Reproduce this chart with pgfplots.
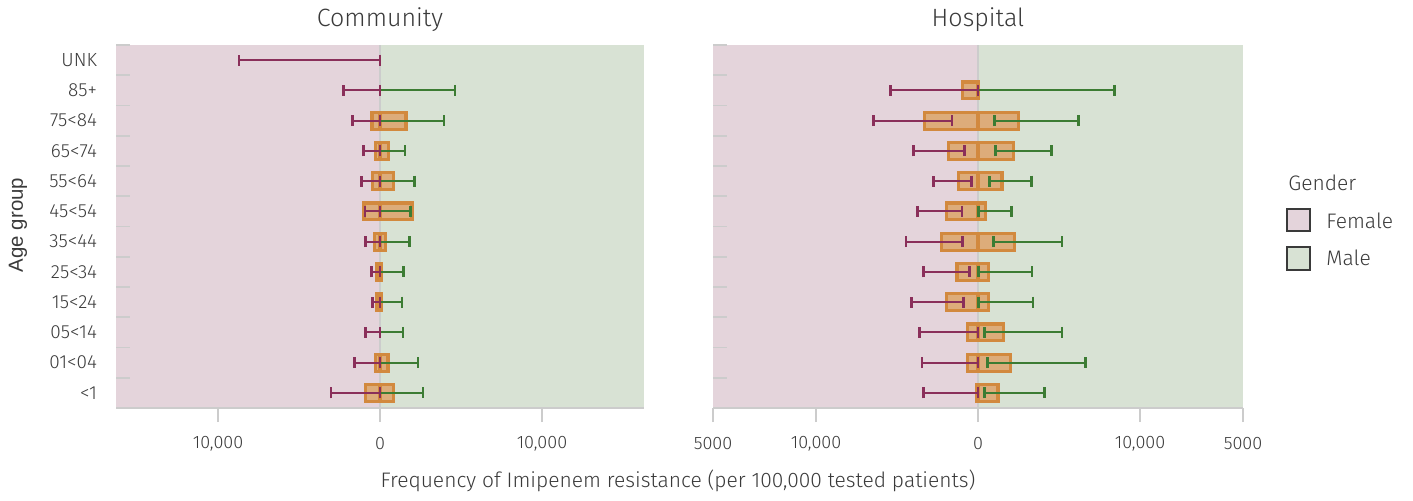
\documentclass[border=0pt]{standalone}
\usepackage{pgfplots}
\pgfplotsset{compat=1.18}
\usepackage{pgfplotstable}
\usepackage{fontspec}
\setmainfont{Fira Sans Light}
\newfontfamily\arialfont{Liberation Sans}

\definecolor{fembg}{HTML}{E4D4DB}
\definecolor{malebg}{HTML}{D8E2D4}
\definecolor{femcol}{HTML}{8A2F5A}
\definecolor{malecol}{HTML}{3C7C33}
\definecolor{boxfill}{HTML}{DDAC7A}
\definecolor{boxedge}{HTML}{D2893E}
\definecolor{axisgray}{HTML}{CCCCCC}
\definecolor{txt}{HTML}{3A3A3A}

% row: 0 = UNK ... 11 = <1
\pgfplotstableread{
row flo fhi mlo mhi blo bhi
0 -8700 0 nan nan nan nan
1 -2240 0 0 4630 nan nan
2 -1700 0 0 3950 -490 1600
3 -1020 0 0 1540 -300 520
4 -1150 0 0 2150 -480 830
5 -930 0 0 1900 -990 1970
6 -900 0 0 1810 -330 350
7 -510 0 0 1460 -200 100
8 -450 0 0 1360 -200 100
9 -900 0 0 1420 nan nan
10 -1580 0 0 2340 -290 490
11 -3030 0 0 2650 -910 820
}\community

\pgfplotstableread{
row flo fhi mlo mhi blo bhi
0 nan nan nan nan nan nan
1 -5380 0 0 8440 -970 0
2 -6430 -1610 1010 6220 -3300 2490
3 -3970 -840 1100 4540 -1830 2180
4 -2730 -400 730 3300 -1190 1480
5 -3720 -990 50 2070 -1940 440
6 -4450 -950 970 5180 -2230 2270
7 -3350 -510 40 3330 -1300 640
8 -4120 -880 40 3390 -1940 640
9 -3590 0 420 5180 -660 1560
10 -3460 0 600 6650 -660 2010
11 -3350 0 420 4120 -90 1230
}\hospital

\pgfplotsset{
  pyr/.style={
    scale only axis, height=181.5pt,
    y dir=reverse, ymin=-0.5, ymax=11.5,
    axis x line*=bottom, axis y line*=left,
    y axis line style={draw=none},
    x axis line style={draw=axisgray, line width=1pt},
    ytick={-0.5,0.5,...,11.5}, y tick label as interval,
    scaled x ticks=false,
    xtick align=outside, ytick align=inside,
    major tick length=7pt,
    tick style={draw=axisgray, line width=0.8pt},
    axis on top,
    xticklabel style={font=\fontsize{9}{10}\selectfont, text=txt, anchor=center, yshift=-11pt},
    yticklabel style={font=\fontsize{9.5}{11}\selectfont, text=txt, anchor=east, xshift=-6pt},
    clip=false,
  },
  boxes/.style={xbar, bar width=0.56, fill=boxfill, draw=boxedge, line width=1.6pt, forget plot},
  femw/.style={draw=none, mark=none, forget plot, error bars/.cd, x dir=both, x explicit,
    error mark=|,
    error bar style={draw=femcol, line width=1pt},
    error mark options={draw=femcol, line width=1.4pt, mark size=2.7pt}},
  malew/.style={draw=none, mark=none, forget plot, error bars/.cd, x dir=both, x explicit,
    error mark=|,
    error bar style={draw=malecol, line width=1pt},
    error mark options={draw=malecol, line width=1.4pt, mark size=2.7pt}},
}

\begin{document}
\begin{tikzpicture}
\path[use as bounding box] (0,0) rectangle (706.5pt,250pt);

% Community
\begin{axis}[pyr, at={(58pt,46pt)}, anchor=south west, width=264pt,
  xmin=-16300, xmax=16300,
  xtick={-10000,0,10000}, xticklabels={{10,000},0,{10,000}},
  yticklabels={UNK,85+,75<84,65<74,55<64,45<54,35<44,25<34,15<24,05<14,01<04,<1}]
\fill[fembg] (axis cs:-16300,-0.5) rectangle (axis cs:0,11.5);
\fill[malebg] (axis cs:0,-0.5) rectangle (axis cs:16300,11.5);
\draw[axisgray, line width=1pt] (axis cs:0,-0.5) -- (axis cs:0,11.5);
\addplot[boxes] table[x=blo, y=row] {\community};
\addplot[boxes] table[x=bhi, y=row] {\community};
\addplot[malew] table[x expr=(\thisrow{mlo}+\thisrow{mhi})/2, y=row,
  x error expr=(\thisrow{mhi}-\thisrow{mlo})/2] {\community};
\addplot[femw] table[x expr=(\thisrow{flo}+\thisrow{fhi})/2, y=row,
  x error expr=(\thisrow{fhi}-\thisrow{flo})/2] {\community};
\end{axis}

% Hospital
\begin{axis}[pyr, at={(356.5pt,46pt)}, anchor=south west, width=265pt,
  xmin=-16358, xmax=16358,
  xtick={-16358,-10000,0,10000,16358}, xticklabels={5000,{10,000},0,{10,000},5000},
  yticklabels={}]
\fill[fembg] (axis cs:-16358,-0.5) rectangle (axis cs:0,11.5);
\fill[malebg] (axis cs:0,-0.5) rectangle (axis cs:16358,11.5);
\draw[axisgray, line width=1pt] (axis cs:0,-0.5) -- (axis cs:0,11.5);
\addplot[boxes] table[x=blo, y=row] {\hospital};
\addplot[boxes] table[x=bhi, y=row] {\hospital};
\addplot[malew] table[x expr=(\thisrow{mlo}+\thisrow{mhi})/2, y=row,
  x error expr=(\thisrow{mhi}-\thisrow{mlo})/2] {\hospital};
\addplot[femw] table[x expr=(\thisrow{flo}+\thisrow{fhi})/2, y=row,
  x error expr=(\thisrow{fhi}-\thisrow{flo})/2] {\hospital};
\end{axis}

% titles and labels
\node[text=txt, font=\fontsize{12.5}{14}\selectfont] at (190pt,240pt) {Community};
\node[text=txt, font=\fontsize{12.5}{14}\selectfont] at (489pt,240pt) {Hospital};
\node[text=txt, font=\fontsize{10.5}{12}\selectfont] at (339pt,9.5pt) {Frequency of Imipenem resistance (per 100,000 tested patients)};
\node[text=txt, rotate=90, font=\arialfont\fontsize{10.2}{12}\selectfont] at (9pt,137.5pt) {Age group};

% legend
\node[text=txt, anchor=west, inner sep=0pt, font=\fontsize{10.5}{12}\selectfont] at (644pt,158.5pt) {Gender};
\filldraw[fill=fembg, draw=txt, line width=0.6pt] (643.5pt,134.5pt) rectangle (655pt,145.5pt);
\filldraw[fill=malebg, draw=txt, line width=0.6pt] (643.5pt,115pt) rectangle (655pt,126.5pt);
\node[text=txt, anchor=west, inner sep=0pt, font=\fontsize{10.5}{12}\selectfont] at (663pt,139.5pt) {Female};
\node[text=txt, anchor=west, inner sep=0pt, font=\fontsize{10.5}{12}\selectfont] at (663pt,121pt) {Male};
\end{tikzpicture}
\end{document}
